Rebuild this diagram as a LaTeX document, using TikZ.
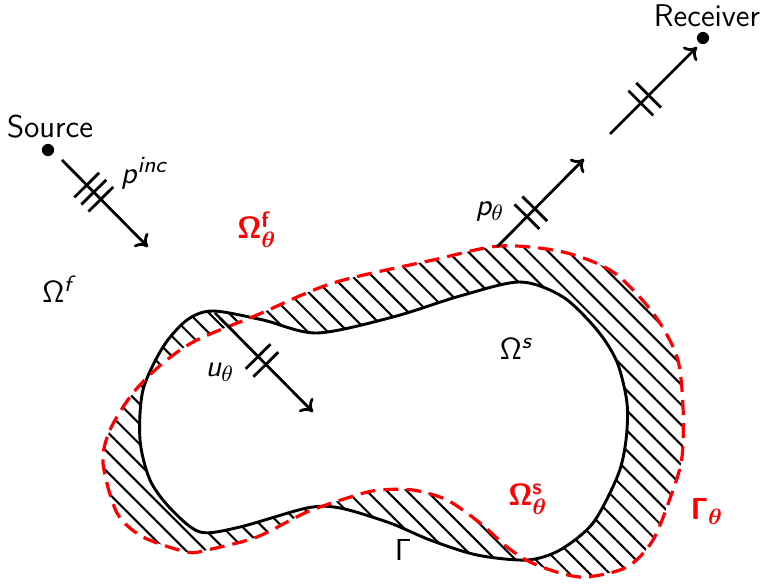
\documentclass[tikz,border=0pt]{standalone}
\usepackage{bm}
\usetikzlibrary{arrows.meta,patterns.meta,decorations.markings,calc}
\DeclareMathAlphabet{\mathsfit}{OT1}{cmss}{m}{sl}
\DeclareMathAlphabet{\mathsfbf}{OT1}{cmss}{bx}{n}
\begin{document}
\begin{tikzpicture}[x=0.36pt,y=-0.36pt,font=\fontsize{11.3}{13.6}\selectfont\sffamily,
  lbl/.style={inner sep=0pt},
  redlbl/.style={inner sep=0pt,text=red},
  dotnode/.style={circle,fill=black,inner sep=0pt,minimum size=4.4pt},
  arr/.style={line width=1pt,-{To[length=4pt,width=7pt]}},
  tk/.style={line width=1pt,arrows=-},
  twoticks/.style={postaction={decorate,decoration={markings,
     mark=at position #1 with {\draw[tk] (-2pt,-6.3pt) -- (-2pt,6.3pt);
                                \draw[tk] (2pt,-6.3pt) -- (2pt,6.3pt);}}}},
  threeticks/.style={postaction={decorate,decoration={markings,
     mark=at position #1 with {\draw[tk] (-3.6pt,-6.3pt) -- (-3.6pt,6.3pt);
                                \draw[tk] (0pt,-6.3pt) -- (0pt,6.3pt);
                                \draw[tk] (3.6pt,-6.3pt) -- (3.6pt,6.3pt);}}}},
  gammaline/.style={line width=1.05pt,black},
  gammathline/.style={line width=1.15pt,red,dash pattern=on 5.4pt off 2.9pt},
  hatch/.style={pattern={Lines[angle=-45,distance=5.1pt,line width=0.75pt]},even odd rule}
]
\path[use as bounding box] (0,0) rectangle (767,585);

% hatched symmetric difference
\path[hatch]
  plot[smooth cycle] coordinates {(213,311) (263,320) (317,333) (393,317) (460,296) (520,282) (563,297) (597,330) (617,362) (627,403) (626,440) (618,475) (593,523) (560,550) (527,560) (477,555) (430,540) (390,523) (340,508) (307,508) (240,527) (200,532) (170,508) (150,480) (140,440) (143,390) (163,347) (187,320)}
  plot[smooth cycle] coordinates {(103,463) (110,430) (133,393) (163,363) (197,340) (257,315) (333,283) (433,260) (500,246) (563,252) (613,272) (653,313) (677,357) (683,407) (682,457) (673,490) (653,540) (627,567) (587,577) (560,573) (530,562) (507,547) (480,523) (447,500) (413,490) (380,490) (357,495) (307,512) (257,537) (207,550) (187,552) (143,537) (117,513)};

% Gamma (solid)
\draw[gammaline] plot[smooth cycle] coordinates {(213,311) (263,320) (317,333) (393,317) (460,296) (520,282) (563,297) (597,330) (617,362) (627,403) (626,440) (618,475) (593,523) (560,550) (527,560) (477,555) (430,540) (390,523) (340,508) (307,508) (240,527) (200,532) (170,508) (150,480) (140,440) (143,390) (163,347) (187,320)};

% Gamma_theta (dashed red)
\draw[gammathline] plot[smooth cycle] coordinates {(103,463) (110,430) (133,393) (163,363) (197,340) (257,315) (333,283) (433,260) (500,246) (563,252) (613,272) (653,313) (677,357) (683,407) (682,457) (673,490) (653,540) (627,567) (587,577) (560,573) (530,562) (507,547) (480,523) (447,500) (413,490) (380,490) (357,495) (307,512) (257,537) (207,550) (187,552) (143,537) (117,513)};

% source and receiver
\node[dotnode] (src) at (48,150) {};
\node[lbl] (srclbl) at (50,127) {Source};
\node[dotnode] (rcv) at (703,38) {};
\node[lbl] (rcvlbl) at (707,16) {Receiver};

\coordinate (incS) at (62,160);
\coordinate (incE) at (148,247);
\draw[arr,threeticks=0.37] (incS) -- (incE);

\coordinate (ptS) at (497,247);
\coordinate (ptE) at (584,159);
\draw[arr,twoticks=0.39] (ptS) -- (ptE);
\coordinate (rS) at (610,134);
\coordinate (rE) at (697,47);
\draw[arr,twoticks=0.40] (rS) -- (rE);

\coordinate (uS) at (215,313);
\coordinate (uE) at (313,412);
\draw[arr,twoticks=0.48] (uS) -- (uE);

% labels
\node[lbl] (pinc) at (145,173) {$\mathsfit{p}^{\mathsfit{inc}}$};
\node[lbl] (omf) at (60,289) {$\mathsf{\Omega}^{\mathsfit{f}}$};
\node[redlbl] (omtf) at (257,230) {$\mathsfbf{\Omega}^{\mathsfbf{f}}_{\bm{\theta}}$};
\node[lbl] (pth) at (490,212) {$\mathsfit{p}_{\theta}$};
\node[lbl] (uth) at (220,372) {$\mathsfit{u}_{\theta}$};
\node[lbl] (oms) at (517,349) {$\mathsf{\Omega}^{\mathsfit{s}}$};
\node[redlbl] (omts) at (528,499) {$\mathsfbf{\Omega}^{\mathsfbf{s}}_{\bm{\theta}}$};
\node[redlbl] (gth) at (707,511) {$\mathsfbf{\Gamma}_{\bm{\theta}}$};
\node[lbl] (gam) at (403,550) {$\mathsf{\Gamma}$};
\end{tikzpicture}
\end{document}
